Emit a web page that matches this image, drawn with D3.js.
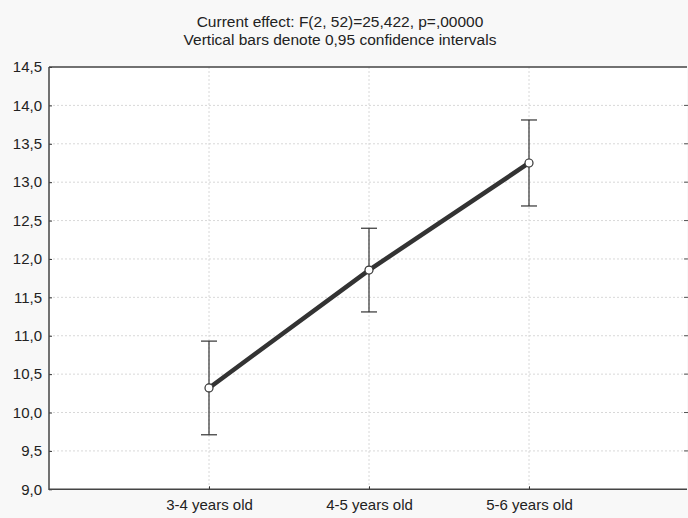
<!DOCTYPE html>
<html><head><meta charset="utf-8">
<script src="https://cdn.jsdelivr.net/npm/d3@7"></script>
<style>body{margin:0;background:#f8f8f8;}svg{display:block;font-family:"Liberation Sans",Arial,sans-serif;}</style>
</head><body><svg id="c" width="688" height="518"></svg>
<script>
const categories = ["3-4 years old", "4-5 years old", "5-6 years old"];
const means = [10.32, 11.855, 13.25];
const upper = [10.93, 12.40, 13.81];
const lower = [9.71, 11.31, 12.69];
const yTicks = [9.0, 9.5, 10.0, 10.5, 11.0, 11.5, 12.0, 12.5, 13.0, 13.5, 14.0, 14.5];
const titleLines = ["Current effect: F(2, 52)=25,422, p=,00000", "Vertical bars denote 0,95 confidence intervals"];

const svg = d3.select("#c");
const L = 49, R = 689, T = 67, B = 489.3;
const x = d3.scaleLinear().domain([0, 4]).range([L, R]);
const y = d3.scaleLinear().domain([9, 14.5]).range([B, T]);
const fmt = v => d3.format(".1f")(v).replace(".", ",");

svg.append("rect").attr("x", L).attr("y", T).attr("width", 687 - L).attr("height", B - T).attr("fill", "#fff");

// gridlines
svg.append("g").selectAll("line").data(yTicks.slice(1, -1)).join("line")
  .attr("x1", L).attr("x2", 687).attr("y1", d => y(d)).attr("y2", d => y(d))
  .attr("stroke", "#d8d8d8").attr("stroke-dasharray", "2,2");
svg.append("g").selectAll("line").data(categories).join("line")
  .attr("x1", (d, i) => x(i + 1)).attr("x2", (d, i) => x(i + 1)).attr("y1", T).attr("y2", B)
  .attr("stroke", "#d8d8d8").attr("stroke-dasharray", "2,2");

// axes
const yAxis = d3.axisLeft(y).tickValues(yTicks).tickFormat(fmt).tickSize(-3).tickPadding(7);
const gy = svg.append("g").attr("transform", `translate(${L},0)`).call(yAxis);
gy.select(".domain").remove();
gy.selectAll("line").attr("stroke", "#333");
gy.selectAll("text").attr("font-size", 15).attr("fill", "#222").attr("font-family", "Liberation Sans, Arial, sans-serif");

const xAxis = d3.axisBottom(x).tickValues([1, 2, 3]).tickFormat(d => categories[d - 1]).tickSize(-3).tickPadding(10);
const gx = svg.append("g").attr("transform", `translate(0,${B})`).call(xAxis);
gx.select(".domain").remove();
gx.selectAll("line").attr("stroke", "#333");
gx.selectAll("text").attr("font-size", 15).attr("fill", "#222").attr("font-family", "Liberation Sans, Arial, sans-serif");

// frame
svg.append("path").attr("d", `M${L},${T}H687M${L},${T}V${B}H687`).attr("stroke", "#444").attr("stroke-width", 1.5).attr("fill", "none");
svg.append("g").selectAll("line").data(yTicks.slice(1, -1)).join("line")
  .attr("x1", 684).attr("x2", 688).attr("y1", d => y(d)).attr("y2", d => y(d)).attr("stroke", "#555");

// error bars
const eb = svg.append("g").attr("stroke", "#333").attr("stroke-width", 1.2);
categories.forEach((c, i) => {
  const cx = x(i + 1);
  eb.append("line").attr("x1", cx).attr("x2", cx).attr("y1", y(upper[i])).attr("y2", y(lower[i]));
  eb.append("line").attr("x1", cx - 8).attr("x2", cx + 8).attr("y1", y(upper[i])).attr("y2", y(upper[i]));
  eb.append("line").attr("x1", cx - 8).attr("x2", cx + 8).attr("y1", y(lower[i])).attr("y2", y(lower[i]));
});

// line
svg.append("path").datum(means)
  .attr("d", d3.line().x((d, i) => x(i + 1)).y(d => y(d)))
  .attr("stroke", "#333").attr("stroke-width", 4.5).attr("fill", "none");
svg.append("g").selectAll("circle").data(means).join("circle")
  .attr("cx", (d, i) => x(i + 1)).attr("cy", d => y(d)).attr("r", 4)
  .attr("fill", "#fff").attr("stroke", "#333").attr("stroke-width", 1.2);

// title
svg.append("g").selectAll("text").data(titleLines).join("text")
  .attr("x", 340).attr("y", (d, i) => 27 + i * 17.5).attr("text-anchor", "middle")
  .attr("font-size", 15.5).attr("fill", "#222").text(d => d);
</script></body></html>
